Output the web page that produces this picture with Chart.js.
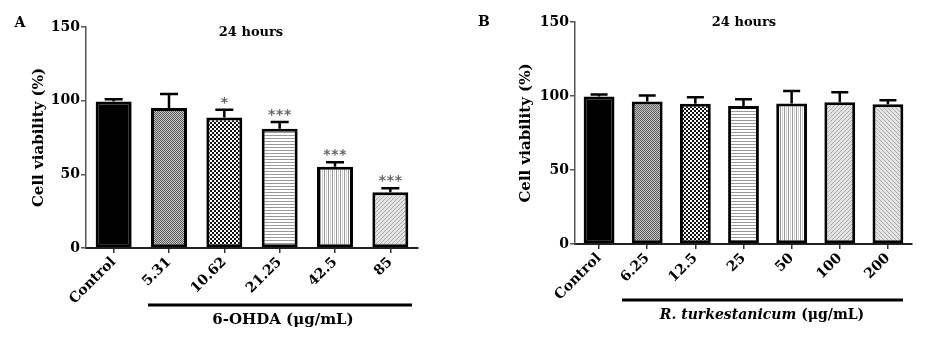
<!DOCTYPE html>
<html><head><meta charset="utf-8">
<script src="https://cdn.jsdelivr.net/npm/chart.js@4.4.1/dist/chart.umd.min.js"></script>
<style>
html,body{margin:0;padding:0;background:#fff;}
#wrap{position:relative;width:927px;height:357px;overflow:hidden;background:#fff}
.pane{position:absolute;top:0;height:357px}
#pa{left:0;width:460px}
#pb{left:460px;width:467px}
</style></head><body>
<div id="wrap">
<div class="pane" id="pa"><canvas id="ca" width="460" height="357"></canvas></div>
<div class="pane" id="pb"><canvas id="cb" width="467" height="357"></canvas></div>
</div>
<script>
// ---- data ----
const categoriesA = ['Control', '5.31', '10.62', '21.25', '42.5', '85'];
const viabilityA = [99.5, 95, 88.5, 81, 55.2, 37.8];
const errorA = [1.5, 9.5, 5.3, 4.5, 3, 2.8];
const significanceA = ['', '', '*', '***', '***', '***'];

const categoriesB = ['Control', '6.25', '12.5', '25', '50', '100', '200'];
const viabilityB = [99.6, 96.2, 94.7, 93.3, 94.9, 95.8, 94.5];
const errorB = [1.4, 4.1, 4.5, 4.5, 8.5, 6.7, 2.7];

const yTicks = [0, 50, 100, 150];
const patternsA = ['solid', 'fine', 'checker', 'hlines', 'vlines', 'diagR'];
const patternsB = ['solid', 'fine', 'checker', 'hlines', 'vlines', 'diagR', 'diagL'];

// ---- patterns ----
function makePattern(kind) {
  if (kind === 'solid') return '#000';
  const c = document.createElement('canvas');
  let ctx;
  const px = (x, y, col) => { ctx.fillStyle = col; ctx.fillRect(x, y, 1, 1); };
  if (kind === 'fine') {
    c.width = 2; c.height = 2; ctx = c.getContext('2d');
    ctx.fillStyle = '#c4c4c4'; ctx.fillRect(0, 0, 2, 2);
    px(0, 0, '#5e5e5e'); px(1, 1, '#5e5e5e');
  } else if (kind === 'checker') {
    c.width = 4; c.height = 4; ctx = c.getContext('2d');
    ctx.fillStyle = '#fff'; ctx.fillRect(0, 0, 4, 4);
    ctx.fillStyle = '#111'; ctx.fillRect(0, 0, 2, 2); ctx.fillRect(2, 2, 2, 2);
  } else if (kind === 'hlines') {
    c.width = 4; c.height = 3; ctx = c.getContext('2d');
    ctx.fillStyle = '#fff'; ctx.fillRect(0, 0, 4, 3);
    ctx.fillStyle = '#999'; ctx.fillRect(0, 0, 4, 1);
  } else if (kind === 'vlines') {
    c.width = 4; c.height = 4; ctx = c.getContext('2d');
    ctx.fillStyle = '#fff'; ctx.fillRect(0, 0, 4, 4);
    ctx.fillStyle = '#9a9a9a'; ctx.fillRect(0, 0, 1, 4);
    ctx.fillStyle = '#d0d0d0'; ctx.fillRect(2, 0, 1, 4);
  } else if (kind === 'diagR' || kind === 'diagL') {
    c.width = 4; c.height = 4; ctx = c.getContext('2d');
    ctx.fillStyle = '#e4e4e4'; ctx.fillRect(0, 0, 4, 4);
    for (let i = 0; i < 4; i++) {
      if (kind === 'diagR') px(3 - i, i, '#a8a8a8'); else px(i, i, '#a8a8a8');
    }
  }
  return document.createElement('canvas').getContext('2d').createPattern(c, 'repeat');
}

const SERIF = "'DejaVu Serif', 'Liberation Serif', serif";

// ---- annotation plugin ----
const panelPlugin = {
  id: 'panel',
  afterDatasetsDraw(chart, args, opts) {
    const ctx = chart.ctx;
    const y = chart.scales.y;
    const meta = chart.getDatasetMeta(0);
    const ds = chart.data.datasets[0];
    ctx.save();
    // error bars (upper only)
    ds.data.forEach((v, i) => {
      const bar = meta.data[i];
      const cx = bar.x;
      const top = y.getPixelForValue(v + opts.errors[i]);
      const base = y.getPixelForValue(v);
      ctx.strokeStyle = '#000';
      ctx.lineWidth = 2.5;
      ctx.beginPath();
      ctx.moveTo(cx, base); ctx.lineTo(cx, top);
      ctx.moveTo(cx - opts.capHalf, top); ctx.lineTo(cx + opts.capHalf, top);
      ctx.stroke();
      const sig = opts.sig ? opts.sig[i] : '';
      if (sig) {
        ctx.fillStyle = '#666';
        ctx.font = "bold 14px 'DejaVu Sans', sans-serif";
        ctx.textAlign = 'center';
        ctx.textBaseline = 'alphabetic';
        const n = sig.length, step = 8;
        for (let k = 0; k < n; k++) {
          ctx.fillText('*', cx + (k - (n - 1) / 2) * step, top - 11 + 8);
        }
      }
    });
    // title
    ctx.fillStyle = '#000';
    ctx.textAlign = 'center';
    ctx.textBaseline = 'middle';
    ctx.font = 'bold 13px ' + SERIF;
    ctx.fillText(opts.title, opts.titleX, opts.titleY);
    // panel letter
    ctx.font = 'bold 14px ' + SERIF;
    ctx.fillText(opts.letter, opts.letterX, opts.letterY);
    // group underline
    ctx.lineWidth = 3;
    ctx.strokeStyle = '#000';
    ctx.beginPath();
    ctx.moveTo(opts.lineX0, opts.lineY); ctx.lineTo(opts.lineX1, opts.lineY);
    ctx.stroke();
    // group label
    const parts = opts.label;
    let total = 0;
    parts.forEach(p => { ctx.font = p.font; total += ctx.measureText(p.text).width; });
    let cx = opts.labelX - total / 2;
    ctx.textAlign = 'left';
    parts.forEach(p => { ctx.font = p.font; ctx.fillText(p.text, cx, opts.labelY); cx += ctx.measureText(p.text).width; });
    ctx.restore();
  }
};

function build(canvasId, cats, vals, pats, cfg) {
  return new Chart(document.getElementById(canvasId), {
    type: 'bar',
    data: {
      labels: cats,
      datasets: [{
        data: vals,
        backgroundColor: pats.map(makePattern),
        borderColor: '#000',
        borderWidth: 3,
        borderSkipped: false,
        categoryPercentage: 1,
        barPercentage: cfg.barPct
      }]
    },
    options: {
      responsive: false,
      animation: false,
      layout: { padding: { top: cfg.top, right: cfg.right, left: 0, bottom: 0 } },
      plugins: {
        legend: { display: false },
        tooltip: { enabled: false },
        panel: cfg.panel
      },
      scales: {
        x: {
          afterFit: s => { s.height = cfg.xHeight; },
          grid: { display: true, drawOnChartArea: false, offset: false, tickLength: 5, color: '#333', lineWidth: 1.5 },
          border: { display: true, color: '#222', width: 2 },
          ticks: { autoSkip: false, maxRotation: 45, minRotation: 45, padding: 1, color: '#000',
                   font: { family: SERIF, weight: 'bold', size: 14 } }
        },
        y: {
          min: 0, max: 150,
          afterFit: s => { s.width = cfg.yWidth; },
          afterBuildTicks: s => { s.ticks = yTicks.map(v => ({ value: v })); },
          grid: { display: true, drawOnChartArea: false, tickLength: 5, color: '#555', lineWidth: 1.5 },
          border: { display: true, color: '#555', width: 1.5 },
          ticks: { padding: 1, color: '#000', font: { family: SERIF, weight: 'bold', size: 14 } },
          title: { display: true, text: 'Cell viability (%)', color: '#000',
                   font: { family: SERIF, weight: 'bold', size: 15 }, padding: { top: cfg.titlePad, bottom: 0 } }
        }
      }
    },
    plugins: [panelPlugin]
  });
}

build('ca', categoriesA, viabilityA, patternsA, {
  barPct: 0.65, top: 27, right: 42, xHeight: 109, yWidth: 86, titlePad: 30,
  panel: {
    errors: errorA, sig: significanceA, capHalf: 9,
    title: '24 hours', titleX: 251, titleY: 33,
    letter: 'A', letterX: 20, letterY: 23,
    lineX0: 148, lineX1: 412, lineY: 305,
    label: [{ text: '6-OHDA (μg/mL)', font: 'bold 15px ' + SERIF }],
    labelX: 283, labelY: 320
  }
});

build('cb', categoriesB, viabilityB, patternsB, {
  barPct: 0.64, top: 22, right: 15, xHeight: 113, yWidth: 115, titlePad: 57,
  panel: {
    errors: errorB, sig: null, capHalf: 8.5,
    title: '24 hours', titleX: 284, titleY: 23,
    letter: 'B', letterX: 24, letterY: 22,
    lineX0: 162, lineX1: 443, lineY: 300,
    label: [{ text: 'R. turkestanicum', font: 'italic bold 14px ' + SERIF },
            { text: ' (μg/mL)', font: 'bold 14px ' + SERIF }],
    labelX: 302, labelY: 315
  }
});
</script>
</body></html>
